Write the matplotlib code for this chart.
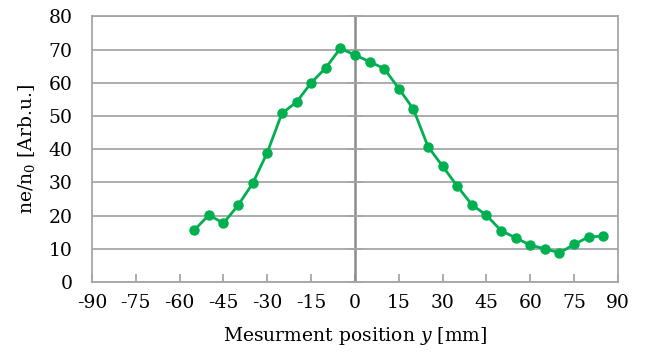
import numpy as np
import matplotlib.pyplot as plt

# mesure de densite le long de y
pos_mm = [-55, -50, -45, -40, -35, -30, -25, -20, -15, -10, -5, 0, 5, 10,
          15, 20, 25, 30, 35, 40, 45, 50, 55, 60, 65, 70, 75, 80, 85]
ne_n0 = [15.6, 20.2, 17.7, 23.1, 29.7, 39.0, 50.8, 54.2, 60.0, 64.5, 70.4, 68.4, 66.4, 64.3,
         58.3, 52.1, 40.8, 34.9, 28.9, 23.3, 20.1, 15.5, 13.3, 11.1, 10.0, 8.8, 11.3, 13.6, 13.8]
xticks = np.arange(-90, 91, 15)
yticks = np.arange(0, 81, 10)

plt.rcParams['font.family'] = ['DejaVu Serif']
plt.rcParams['mathtext.fontset'] = 'dejavuserif'
plt.rcParams['axes.unicode_minus'] = False

fig = plt.figure(figsize=(6.45, 3.56), dpi=100)
ax = fig.add_axes([0.1426, 0.2079, 0.8154, 0.7458])

gris = '#a6a6a6'
ax.set_xlim(-90, 90)
ax.set_ylim(0, 80)
ax.set_xticks(xticks)
ax.set_yticks(yticks)
ax.yaxis.grid(True, color=gris, lw=1.3)
ax.set_axisbelow(True)
for s in ax.spines.values():
    s.set_color(gris)
    s.set_linewidth(1.3)

ax.tick_params(axis='x', direction='in', length=6, color=gris, width=1.3, labelsize=13.5, pad=9)
ax.tick_params(axis='y', length=0, labelsize=13.5, pad=14)

# axe vertical en y = 0 (style Excel)
ax.axvline(0, color='#8c8c8c', lw=1.8, zorder=1)
ax.plot(np.zeros(len(yticks)), yticks, ls='none', marker='_', ms=12, mew=1.3, color=gris, zorder=1, clip_on=False)

ax.plot(pos_mm, ne_n0, color='#00b050', lw=2, marker='o', ms=6.5, zorder=3)

ax.set_xlabel('Mesurment position $y$ [mm]', fontsize=13.5, labelpad=9)
ax.set_ylabel('ne/n$_0$ [Arb.u.]', fontsize=13.5, labelpad=8)

plt.savefig('out.png', dpi=100)
